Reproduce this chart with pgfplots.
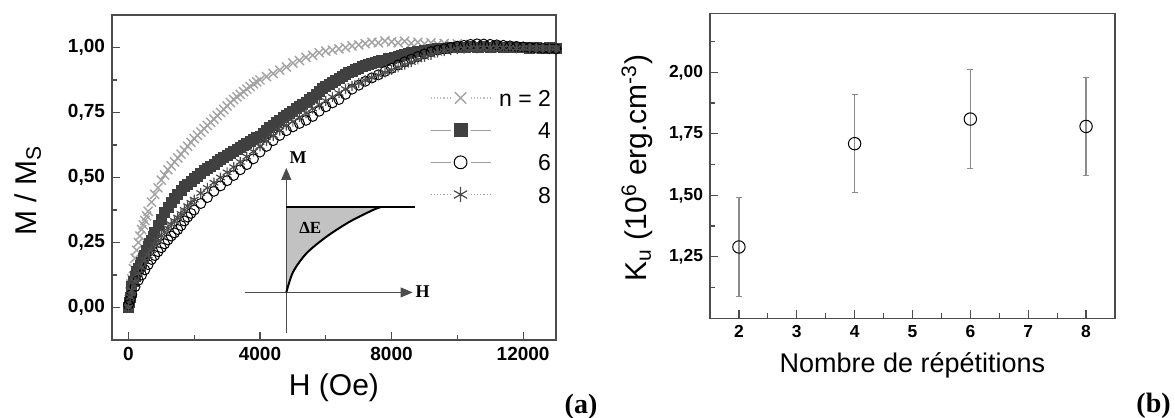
\documentclass[border=0pt]{standalone}
\usepackage{fontspec}
\setmainfont{Liberation Sans}
\newfontfamily\timesf{Liberation Serif}
\usepackage{pgfplots}
\pgfplotsset{compat=1.18}
\usetikzlibrary{arrows.meta}
\definecolor{axgray}{gray}{0.3}
\definecolor{crossgray}{gray}{0.64}
\definecolor{sqgray}{gray}{0.25}
\definecolor{stargray}{gray}{0.3}
\definecolor{leggray}{gray}{0.62}
\definecolor{errgray}{gray}{0.55}
\definecolor{fillgray}{gray}{0.76}

\pgfplotsset{
  panel/.style={
    scale only axis, anchor=south west,
    tick align=inside, xtick pos=lower, ytick pos=left,
    major tick length=4pt, minor tick length=2.5pt,
    axis line style={axgray,line width=0.8pt},
    every tick/.style={axgray,line width=0.6pt},
    /pgf/number format/assume math mode=true,
    yticklabel style={/pgf/number format/fixed,/pgf/number format/fixed zerofill,
      /pgf/number format/precision=2,/pgf/number format/use comma},
    xticklabel style={/pgf/number format/fixed,/pgf/number format/1000 sep={}},
    scaled ticks=false,
  },
  legdot/.style={legend image code/.code={%
    \draw[leggray!70,densely dotted,line width=0.6pt] (0pt,0pt) -- (10pt,0pt) (20pt,0pt) -- (30pt,0pt);
    \draw[##1,mark size=#1] plot coordinates {(15pt,0pt)};}},
  legdotdark/.style={legend image code/.code={%
    \draw[leggray,densely dotted,line width=0.6pt] (0pt,0pt) -- (10pt,0pt) (20pt,0pt) -- (30pt,0pt);
    \draw[##1,mark size=#1] plot coordinates {(15pt,0pt)};}},
  legsolid/.style={legend image code/.code={%
    \draw[leggray,line width=0.6pt] (0pt,0pt) -- (10pt,0pt) (20pt,0pt) -- (30pt,0pt);
    \draw[##1,mark size=#1] plot coordinates {(15pt,0pt)};}},
}

\begin{document}
\begin{tikzpicture}
\useasboundingbox (0,0) rectangle (587.5pt,-209pt);

% ---------------- (a) magnetisation curves
\begin{axis}[panel,
  at={(56pt,-170pt)}, width=222pt, height=162.5pt,
  xmin=-500, xmax=13000, ymin=-0.125, ymax=1.125,
  xtick={0,4000,8000,12000}, minor x tick num=1,
  ytick={0,0.25,0.5,0.75,1}, minor y tick num=1,
  tick label style={font=\bfseries\fontsize{9.5}{11}\selectfont},
  xlabel={H (Oe)}, ylabel={M / M\textsubscript{S}},
  xlabel style={font=\fontsize{15}{17}\selectfont, at={(axis description cs:0.5,-0.148)}, anchor=center},
  ylabel style={font=\fontsize{15}{17}\selectfont, at={(axis description cs:-0.19,0.46)}, anchor=center},
  legend style={draw=none, fill=none, at={(0.9887,0.771)}, anchor=north east,
    inner sep=0pt, outer sep=0pt, row sep=7.6pt, column sep=4pt,
    font=\fontsize{11.5}{13}\selectfont,
    nodes={inner sep=0pt, text height=8.5pt, text depth=0pt}},
  legend cell align=right,
]
% inset sketch
\fill[fillgray] (axis cs:4800,0.058) -- (axis cs:4800,0.387) -- (axis cs:7690,0.387)
  -- plot[smooth] coordinates {(axis cs:7690,0.387) (axis cs:7435,0.375) (axis cs:6726,0.330)
  (axis cs:6018,0.272) (axis cs:5410,0.208) (axis cs:5004,0.136) (axis cs:4800,0.058)} -- cycle;
\draw[axgray, line width=0.5pt, -{Triangle[length=6pt,width=5pt]}] (axis cs:4800,-0.097) -- (axis cs:4800,0.537);
\draw[axgray, line width=0.5pt, -{Triangle[length=6pt,width=5pt]}] (axis cs:3535,0.058) -- (axis cs:8641,0.058);
\draw[black, line width=1pt] (axis cs:4800,0.387) -- (axis cs:8702,0.387);
\draw[black, line width=1pt] plot[smooth] coordinates {(axis cs:4800,0.058) (axis cs:5004,0.136)
  (axis cs:5410,0.208) (axis cs:6018,0.272) (axis cs:6726,0.330) (axis cs:7435,0.375) (axis cs:7690,0.387)};
\node[font=\timesf\bfseries\fontsize{9}{10}\selectfont, anchor=west, inner sep=0pt] at (axis cs:8720,0.062) {H};
\node[font=\timesf\bfseries\fontsize{9}{10}\selectfont] at (axis cs:5160,0.578) {M};
\node[font=\timesf\bfseries\fontsize{8.5}{10}\selectfont] at (axis cs:5530,0.307) {ΔE};

% n = 2
\addplot[only marks, mark=x, mark size=3.2pt, crossgray, line width=0.7pt, legdot=4pt]
coordinates {
(0,0.000)(25,0.030)(50,0.060)(75,0.090)(100,0.110)(150,0.150)(200,0.190)(250,0.220)(300,0.250)
(350,0.275)(400,0.300)(450,0.318)(500,0.335)(550,0.352)(600,0.370)(700,0.405)(800,0.435)(900,0.460)
(1000,0.490)(1100,0.510)(1200,0.530)(1300,0.545)(1400,0.560)(1500,0.575)(1600,0.590)(1700,0.605)
(1800,0.620)(1900,0.635)(2000,0.650)(2100,0.662)(2200,0.675)(2300,0.688)(2400,0.700)(2500,0.712)
(2600,0.725)(2700,0.738)(2800,0.750)(2900,0.762)(3000,0.775)(3100,0.788)(3200,0.800)(3300,0.810)
(3400,0.820)(3500,0.830)(3600,0.840)(3700,0.850)(3800,0.860)(3900,0.868)(4000,0.875)(4200,0.888)
(4400,0.900)(4600,0.913)(4800,0.925)(5000,0.940)(5200,0.950)(5400,0.962)(5600,0.970)(5800,0.980)
(6000,0.986)(6200,0.990)(6400,0.995)(6600,1.000)(6800,1.006)(7000,1.010)(7200,1.015)(7400,1.020)
(7600,1.018)(7800,1.025)(8000,1.022)(8200,1.018)(8400,1.024)(8600,1.016)(8800,1.020)(9000,1.014)
(9200,1.018)(9400,1.012)(9600,1.016)(9800,1.010)(10000,1.014)(10200,1.008)(10400,1.012)
(10600,1.006)(10800,1.010)(11000,1.004)(11200,1.008)(11400,1.003)(11600,1.006)(11800,1.000)
(12000,1.004)(12200,0.999)(12400,1.002)(12600,0.998)(12800,1.001)(13000,0.998)};
\addlegendentry{n = 2}

% n = 4
\addplot[only marks, mark=square*, mark size=2.5pt, sqgray, fill=sqgray, legsolid=3.2pt]
coordinates {
(0,0.000)(25,0.020)(50,0.040)(75,0.060)(100,0.080)(150,0.100)(200,0.120)(250,0.140)(300,0.150)
(350,0.163)(400,0.175)(450,0.188)(500,0.200)(550,0.218)(600,0.235)(650,0.248)(700,0.260)
(750,0.275)(800,0.290)(900,0.315)(1000,0.340)(1100,0.365)(1200,0.385)(1300,0.405)(1400,0.420)
(1500,0.435)(1600,0.450)(1700,0.465)(1800,0.475)(1900,0.485)(2000,0.495)(2100,0.506)(2200,0.515)
(2300,0.526)(2400,0.535)(2500,0.544)(2600,0.552)(2700,0.561)(2800,0.568)(2900,0.577)(3000,0.584)
(3100,0.593)(3200,0.600)(3300,0.608)(3400,0.615)(3500,0.623)(3600,0.630)(3700,0.638)(3800,0.645)
(3900,0.653)(4000,0.660)(4100,0.671)(4200,0.680)(4300,0.691)(4400,0.700)(4500,0.711)(4600,0.720)
(4700,0.731)(4800,0.740)(4900,0.748)(5000,0.755)(5100,0.766)(5200,0.775)(5300,0.783)(5400,0.790)
(5500,0.801)(5600,0.810)(5700,0.821)(5800,0.830)(5900,0.841)(6000,0.850)(6100,0.858)(6200,0.865)
(6300,0.873)(6400,0.880)(6500,0.888)(6600,0.895)(6700,0.903)(6800,0.910)(6900,0.915)(7000,0.920)
(7100,0.926)(7200,0.930)(7300,0.935)(7400,0.938)(7500,0.942)(7600,0.945)(7700,0.949)(7800,0.952)
(7900,0.957)(8000,0.960)(8100,0.963)(8200,0.966)(8300,0.971)(8400,0.975)(8500,0.978)(8600,0.980)
(8800,0.985)(9000,0.990)(9200,0.993)(9400,0.996)(9600,0.998)(9800,1.000)(10000,1.002)(10200,1.000)
(10400,1.003)(10600,1.001)(10800,1.004)(11000,1.000)(11200,1.003)(11400,0.999)(11600,1.002)
(11800,0.999)(12000,1.001)(12200,0.998)(12400,1.000)(12600,0.997)(12800,0.999)(13000,0.998)};
\addlegendentry{4}

% n = 6
\addplot[only marks, mark=o, mark size=2.5pt, black, line width=0.5pt, legsolid=3.2pt]
coordinates {
(0,0.010)(50,0.030)(100,0.050)(200,0.080)(300,0.105)(400,0.125)(500,0.145)(600,0.165)(700,0.185)
(800,0.200)(900,0.215)(1000,0.230)(1100,0.245)(1200,0.260)(1300,0.275)(1400,0.287)(1500,0.300)
(1600,0.315)(1700,0.333)(1800,0.348)(1900,0.362)(2000,0.375)(2200,0.400)(2400,0.423)(2600,0.447)
(2800,0.468)(3000,0.488)(3200,0.508)(3400,0.530)(3600,0.550)(3800,0.572)(4000,0.598)(4200,0.620)
(4400,0.642)(4600,0.662)(4800,0.680)(5000,0.695)(5200,0.708)(5400,0.720)(5600,0.735)(5800,0.755)
(6000,0.772)(6200,0.787)(6400,0.800)(6600,0.820)(6800,0.840)(7000,0.855)(7200,0.870)(7400,0.883)
(7600,0.895)(7800,0.908)(8000,0.920)(8200,0.933)(8400,0.945)(8600,0.955)(8800,0.965)(9000,0.975)
(9200,0.984)(9400,0.990)(9600,0.995)(9800,1.000)(10000,1.005)(10200,1.008)(10400,1.012)
(10600,1.014)(10800,1.013)(11000,1.012)(11200,1.010)(11400,1.008)(11600,1.006)(11800,1.004)
(12000,1.002)(12200,1.000)(12400,0.998)(12600,0.997)(12800,0.996)(13000,0.995)};
\addlegendentry{6}

% n = 8
\addplot[only marks, mark=asterisk, mark size=2.5pt, stargray, line width=0.6pt, legdotdark=3.8pt]
coordinates {
(0,0.000)(50,0.040)(100,0.065)(200,0.100)(300,0.130)(400,0.155)(500,0.180)(600,0.200)(700,0.220)
(800,0.240)(900,0.258)(1000,0.275)(1100,0.290)(1200,0.305)(1300,0.320)(1400,0.333)(1500,0.346)
(1600,0.360)(1700,0.375)(1800,0.390)(1900,0.403)(2000,0.415)(2200,0.440)(2400,0.460)(2600,0.480)
(2800,0.500)(3000,0.520)(3200,0.540)(3400,0.560)(3600,0.580)(3800,0.600)(4000,0.620)(4200,0.640)
(4400,0.660)(4600,0.680)(4800,0.700)(5000,0.715)(5200,0.732)(5400,0.748)(5600,0.765)(5800,0.780)
(6000,0.795)(6200,0.810)(6400,0.825)(6600,0.840)(6800,0.852)(7000,0.863)(7200,0.874)(7400,0.884)
(7600,0.894)(7800,0.904)(8000,0.914)(8200,0.924)(8400,0.934)(8600,0.944)(8800,0.954)(9000,0.964)
(9200,0.972)(9400,0.980)(9600,0.986)(9800,0.990)(10000,0.994)(10200,0.996)(10400,0.998)
(10600,0.997)(10800,0.999)(11000,0.998)(11200,1.000)(11400,0.998)(11600,0.999)(11800,0.997)
(12000,0.999)(12200,0.998)(12400,0.999)(12600,0.997)(12800,0.998)(13000,0.997)};
\addlegendentry{8}
\end{axis}

% ---------------- (b) anisotropy constant
\begin{axis}[panel,
  at={(355pt,-159.15pt)}, width=202.5pt, height=152.5pt,
  xmin=1.5, xmax=8.5, ymin=1.0, ymax=2.24,
  xtick={2,3,4,5,6,7,8}, minor x tick num=1,
  ytick={1.25,1.5,1.75,2}, minor ytick={1.125,1.375,1.625,1.875,2.125},
  tick label style={font=\bfseries\fontsize{8.7}{10}\selectfont},
  xlabel={Nombre de répétitions},
  ylabel={K\textsubscript{u} (10\textsuperscript{6} erg.cm\textsuperscript{-3})},
  xlabel style={font=\fontsize{13.5}{15}\selectfont, at={(axis description cs:0.5,-0.153)}, anchor=center},
  ylabel style={font=\fontsize{15}{17}\selectfont, at={(axis description cs:-0.18,0.493)}, anchor=center},
]
\addplot[only marks, mark=o, mark size=3.1pt, black, line width=0.5pt,
  mark options={fill=white},
  error bars/.cd, y dir=both, y explicit,
  error bar style={errgray, line width=0.6pt},
  error mark options={rotate=90, mark size=1.5pt, errgray, line width=0.6pt}]
coordinates {
(2,1.29) +- (0,0.20)
(4,1.71) +- (0,0.20)
(6,1.81) +- (0,0.20)
(8,1.78) +- (0,0.20)
};
\end{axis}

\node[font=\timesf\bfseries\fontsize{14}{16}\selectfont] at (290.5pt,-203.5pt) {(a)};
\node[font=\timesf\bfseries\fontsize{14}{16}\selectfont] at (576.8pt,-203pt) {(b)};
\end{tikzpicture}
\end{document}
